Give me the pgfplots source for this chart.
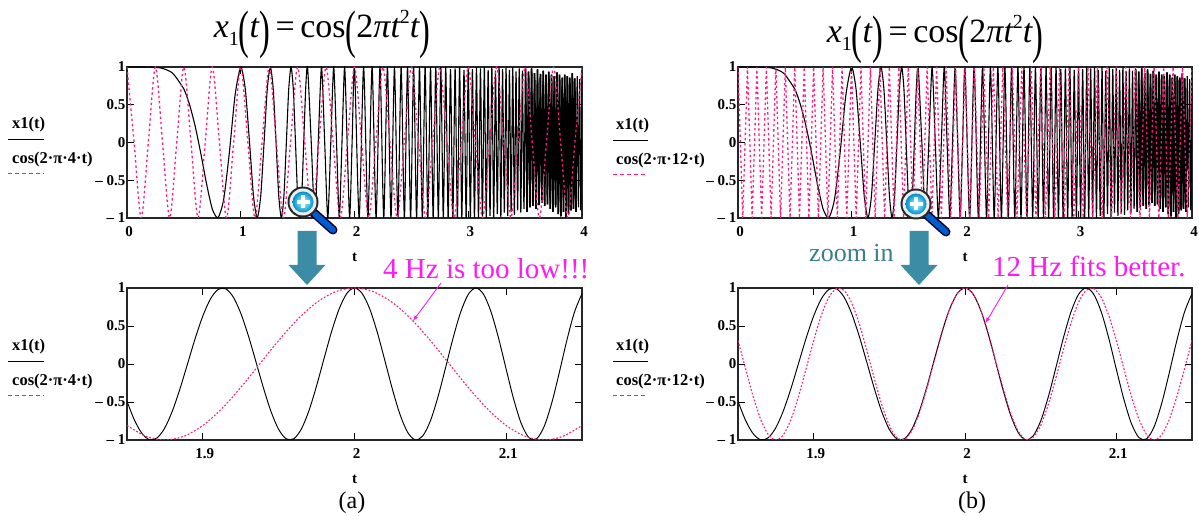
\documentclass[border=0pt]{standalone}
\usepackage{fontspec}
\setmainfont{Liberation Serif}
\usepackage{pgfplots}
\usepackage{pgfplotstable}
\pgfplotsset{compat=1.18}
\definecolor{pk}{HTML}{FF1A80}
\definecolor{teal1}{HTML}{3C8CA6}
\definecolor{teal2}{HTML}{3A7F8F}
\definecolor{mag}{HTML}{FF1AF0}

\pgfplotstableread[row sep=crcr]{
x y\\
0 1\\ 0.1 1\\ 0.2 0.998\\ 0.3 0.986\\ 0.4 0.920\\ 0.5 0.707\\ 0.55 0.501\\ 0.6 0.212\\ 0.65 -0.154\\ 0.7 -0.552\\ 0.75 -0.882\\ 0.8 -0.997\\ 0.85 -0.754\\ 0.9 -0.132\\ 0.95 0.625\\
1.0 1\\ 1.04 0.707\\ 1.0772 0\\ 1.112 -0.707\\ 1.1447 -1\\ 1.1757 -0.707\\ 1.2051 0\\ 1.2331 0.707\\
1.2599 1\\ 1.2856 0.707\\ 1.3104 0\\ 1.3342 -0.707\\ 1.3572 -1\\ 1.3795 -0.707\\ 1.401 0\\ 1.4218 0.707\\
1.4422 1\\ 1.462 0.707\\ 1.4812 0\\ 1.5 -0.707\\ 1.5183 -1\\ 1.5362 -0.707\\ 1.5536 0\\ 1.5708 0.707\\
1.5874 1\\ 1.6198 0\\ 1.651 -1\\ 1.681 0\\ 1.71 1\\ 1.738 0\\ 1.7652 -1\\ 1.7915 0\\ 1.8171 1\\ 1.842 0\\ 1.8663 -1\\ 1.8899 0\\ 1.9129 1\\ 1.9354 0\\ 1.9574 -1\\ 1.9789 0\\ 2.0 1\\
2.0408 -1\\ 2.0801 1\\ 2.1179 -1\\ 2.1544 1\\ 2.1898 -1\\ 2.224 1\\ 2.2572 -1\\ 2.2894 1\\ 2.3208 -1\\ 2.3513 1\\ 2.3811 -1\\ 2.4101 1\\ 2.4385 -1\\ 2.4662 1\\ 2.4933 -1\\ 2.5198 1\\ 2.5458 -1\\ 2.5713 1\\ 2.5962 -1\\ 2.6207 1\\ 2.6448 -1\\ 2.6684 1\\ 2.6916 -1\\ 2.7144 1\\ 2.7369 -1\\ 2.7589 1\\ 2.7806 -1\\ 2.802 1\\ 2.8231 -1\\ 2.8439 0.97\\ 2.8643 -1\\ 2.8845 0.98\\ 2.9044 -1\\ 2.924 1\\ 2.9434 -1\\ 2.9625 0.96\\ 2.9814 -1\\ 3.0 1\\
3.0184 -1\\ 3.0366 0.97\\ 3.0546 -1\\ 3.0723 1\\ 3.0899 -1\\ 3.1072 0.98\\ 3.1244 -0.98\\ 3.1414 1\\ 3.1582 -1\\ 3.1748 0.96\\ 3.1913 -0.97\\ 3.2075 1\\ 3.2237 -1\\ 3.2396 0.95\\ 3.2554 -0.95\\ 3.2711 1\\ 3.2866 -0.99\\ 3.3019 0.97\\ 3.3171 -0.93\\ 3.3322 0.99\\ 3.3472 -0.97\\ 3.362 0.96\\ 3.3767 -0.92\\ 3.3912 1\\ 3.4056 -0.96\\ 3.42 0.94\\ 3.4341 -0.90\\ 3.4482 0.98\\ 3.4622 -0.93\\ 3.476 0.95\\ 3.4898 -0.88\\ 3.5034 0.97\\ 3.5169 -0.92\\ 3.5303 0.94\\ 3.5437 -0.86\\ 3.5569 0.98\\ 3.57 -0.84\\ 3.583 0.92\\ 3.596 -0.88\\ 3.6088 0.97\\ 3.6216 -0.83\\ 3.6342 0.91\\ 3.6468 -0.80\\ 3.6593 0.95\\ 3.6717 -0.84\\ 3.684 0.90\\ 3.6963 -0.82\\ 3.7084 0.94\\ 3.7205 -0.88\\ 3.7325 0.90\\ 3.7444 -0.92\\ 3.7563 0.88\\ 3.7681 -0.86\\ 3.7798 0.93\\ 3.7914 -0.95\\ 3.803 0.90\\ 3.8144 -0.98\\ 3.8259 0.86\\ 3.8372 -0.92\\ 3.8485 0.90\\ 3.8597 -1\\ 3.8709 0.88\\ 3.882 -0.95\\ 3.893 0.86\\ 3.904 -0.90\\ 3.9149 0.92\\ 3.9257 -0.88\\ 3.9365 0.85\\ 3.9472 -0.92\\ 3.9579 0.88\\ 3.9685 -0.86\\ 3.9791 0.84\\ 3.9896 -0.90\\ 4.0 0.86\\
}\chirptop

\pgfplotstableread[row sep=crcr]{
x y\\
1.85 -0.491\\ 1.855 -0.742\\ 1.86 -0.917\\ 1.865 -0.997\\ 1.87 -0.970\\ 1.875 -0.838\\ 1.88 -0.614\\ 1.885 -0.322\\ 1.89 0.008\\ 1.895 0.339\\ 1.9 0.632\\ 1.905 0.855\\ 1.91 0.980\\ 1.915 0.990\\ 1.92 0.883\\ 1.925 0.669\\ 1.93 0.373\\ 1.935 0.031\\ 1.94 -0.317\\ 1.945 -0.628\\ 1.95 -0.861\\ 1.955 -0.985\\ 1.96 -0.983\\ 1.965 -0.854\\ 1.97 -0.612\\ 1.975 -0.287\\ 1.98 0.078\\ 1.985 0.434\\ 1.99 0.731\\ 1.995 0.930\\ 2.0 1\\ 2.005 0.929\\ 2.01 0.727\\ 2.015 0.418\\ 2.02 0.047\\ 2.025 -0.332\\ 2.03 -0.664\\ 2.035 -0.898\\ 2.04 -0.998\\ 2.045 -0.947\\ 2.05 -0.750\\ 2.055 -0.435\\ 2.06 -0.052\\ 2.065 0.342\\ 2.07 0.683\\ 2.075 0.916\\ 2.08 1.000\\ 2.085 0.920\\ 2.09 0.687\\ 2.095 0.339\\ 2.1 -0.069\\ 2.105 -0.467\\ 2.11 -0.786\\ 2.115 -0.970\\ 2.12 -0.985\\ 2.125 -0.824\\ 2.13 -0.516\\ 2.135 -0.115\\ 2.14 0.311\\ 2.145 0.681\\ 2.15 0.926\\
}\chirpbot

\pgfplotstableread[row sep=crcr]{
x y\\
0 1\\ 0.0625 0\\ 0.125 -1\\ 0.1875 0\\ 0.25 1\\ 0.3125 0\\ 0.375 -1\\ 0.4375 0\\ 0.5 1\\ 0.5625 0\\ 0.625 -1\\ 0.6875 0\\ 0.75 1\\ 0.8125 0\\ 0.875 -1\\ 0.9375 0\\
1 1\\ 1.0625 0\\ 1.125 -1\\ 1.1875 0\\ 1.25 1\\ 1.3125 0\\ 1.375 -1\\ 1.4375 0\\ 1.5 1\\ 1.5625 0\\ 1.625 -1\\ 1.6875 0\\ 1.75 1\\ 1.8125 0\\ 1.875 -1\\ 1.9375 0\\
2 1\\ 2.0625 0\\ 2.125 -1\\ 2.1875 0\\ 2.25 1\\ 2.3125 0\\ 2.375 -1\\ 2.4375 0\\ 2.5 1\\ 2.5625 0\\ 2.625 -1\\ 2.6875 0\\ 2.75 1\\ 2.8125 0\\ 2.875 -1\\ 2.9375 0\\
3 1\\ 3.0625 0\\ 3.125 -1\\ 3.1875 0\\ 3.25 1\\ 3.3125 0\\ 3.375 -1\\ 3.4375 0\\ 3.5 1\\ 3.5625 0\\ 3.625 -1\\ 3.6875 0\\ 3.75 1\\ 3.8125 0\\ 3.875 -1\\ 3.9375 0\\ 4 1\\
}\cosfourtop

\pgfplotstableread[row sep=crcr]{
x y\\
0 1\\ 0.04167 -1\\ 0.08333 1\\ 0.125 -1\\ 0.16667 1\\ 0.20833 -1\\ 0.25 1\\ 0.29167 -1\\ 0.33333 1\\ 0.375 -1\\ 0.41667 1\\ 0.45833 -1\\ 0.5 1\\ 0.54167 -1\\ 0.58333 1\\ 0.625 -1\\ 0.66667 1\\ 0.70833 -1\\ 0.75 1\\ 0.79167 -1\\ 0.83333 1\\ 0.875 -1\\ 0.91667 1\\ 0.95833 -1\\
1 1\\ 1.04167 -1\\ 1.08333 1\\ 1.125 -1\\ 1.16667 1\\ 1.20833 -1\\ 1.25 1\\ 1.29167 -1\\ 1.33333 1\\ 1.375 -1\\ 1.41667 1\\ 1.45833 -1\\ 1.5 1\\ 1.54167 -1\\ 1.58333 1\\ 1.625 -1\\ 1.66667 1\\ 1.70833 -1\\ 1.75 1\\ 1.79167 -1\\ 1.83333 1\\ 1.875 -1\\ 1.91667 1\\ 1.95833 -1\\
2 1\\ 2.04167 -1\\ 2.08333 1\\ 2.125 -1\\ 2.16667 1\\ 2.20833 -1\\ 2.25 1\\ 2.29167 -1\\ 2.33333 1\\ 2.375 -1\\ 2.41667 1\\ 2.45833 -1\\ 2.5 1\\ 2.54167 -1\\ 2.58333 1\\ 2.625 -1\\ 2.66667 1\\ 2.70833 -1\\ 2.75 1\\ 2.79167 -1\\ 2.83333 1\\ 2.875 -1\\ 2.91667 1\\ 2.95833 -1\\
3 1\\ 3.04167 -1\\ 3.08333 1\\ 3.125 -1\\ 3.16667 1\\ 3.20833 -1\\ 3.25 1\\ 3.29167 -1\\ 3.33333 1\\ 3.375 -1\\ 3.41667 1\\ 3.45833 -1\\ 3.5 1\\ 3.54167 -1\\ 3.58333 1\\ 3.625 -1\\ 3.66667 1\\ 3.70833 -1\\ 3.75 1\\ 3.79167 -1\\ 3.83333 1\\ 3.875 -1\\ 3.91667 1\\ 3.95833 -1\\ 4 1\\
}\costwelvetop

\pgfplotstableread[row sep=crcr]{
x y\\
1.85 -0.809\\ 1.8625 -0.951\\ 1.875 -1\\ 1.8875 -0.951\\ 1.9 -0.809\\ 1.9125 -0.588\\ 1.925 -0.309\\ 1.9375 0\\ 1.95 0.309\\ 1.9625 0.588\\ 1.975 0.809\\ 1.9875 0.951\\ 2.0 1\\ 2.0125 0.951\\ 2.025 0.809\\ 2.0375 0.588\\ 2.05 0.309\\ 2.0625 0\\ 2.075 -0.309\\ 2.0875 -0.588\\ 2.1 -0.809\\ 2.1125 -0.951\\ 2.125 -1\\ 2.1375 -0.951\\ 2.15 -0.809\\
}\cosfourbot

\pgfplotstableread[row sep=crcr]{
x y\\
1.85 0.309\\ 1.855 -0.063\\ 1.86 -0.426\\ 1.865 -0.729\\ 1.87 -0.930\\ 1.875 -1\\ 1.88 -0.930\\ 1.885 -0.729\\ 1.89 -0.426\\ 1.895 -0.063\\ 1.9 0.309\\ 1.905 0.637\\ 1.91 0.876\\ 1.915 0.992\\ 1.92 0.969\\ 1.925 0.809\\ 1.93 0.536\\ 1.935 0.187\\ 1.94 -0.187\\ 1.945 -0.536\\ 1.95 -0.809\\ 1.955 -0.969\\ 1.96 -0.992\\ 1.965 -0.876\\ 1.97 -0.637\\ 1.975 -0.309\\ 1.98 0.063\\ 1.985 0.426\\ 1.99 0.729\\ 1.995 0.930\\ 2.0 1\\
2.005 0.930\\ 2.01 0.729\\ 2.015 0.426\\ 2.02 0.063\\ 2.025 -0.309\\ 2.03 -0.637\\ 2.035 -0.876\\ 2.04 -0.992\\ 2.045 -0.969\\ 2.05 -0.809\\ 2.055 -0.536\\ 2.06 -0.187\\ 2.065 0.187\\ 2.07 0.536\\ 2.075 0.809\\ 2.08 0.969\\ 2.085 0.992\\ 2.09 0.876\\ 2.095 0.637\\ 2.1 0.309\\ 2.105 -0.063\\ 2.11 -0.426\\ 2.115 -0.729\\ 2.12 -0.930\\ 2.125 -1\\ 2.13 -0.930\\ 2.135 -0.729\\ 2.14 -0.426\\ 2.145 -0.063\\ 2.15 0.309\\
}\costwelvebot

\pgfplotsset{
  panel/.style={
    scale only axis, width=455pt,
    ymin=-1, ymax=1,
    axis line style={line width=1.2pt,black!85},
    tick align=inside, major tick length=7pt,
    tick style={black,line width=0.8pt},
    ytick={-1,-0.5,0,0.5,1},
    yticklabels={\textendash\ 1,\textendash\ 0.5,0,0.5,1},
    tick label style={font=\bfseries\fontsize{15}{15}\selectfont},
    yticklabel style={xshift=2pt},
    xlabel={t},
    xlabel style={font=\bfseries\fontsize{15}{15}\selectfont},
    clip=true,
  },
  toppanel/.style={panel,height=151pt,xmin=0,xmax=4,xtick={0,1,2,3,4},
    xticklabels={0,1,2,3,4},
    xticklabel style={yshift=-5pt,xshift=2pt},
    xlabel style={yshift=-10pt}},
  botpanel/.style={panel,height=152pt,xmin=1.85,xmax=2.15,xtick={1.9,2,2.1},
    xticklabels={1.9,2,2.1},
    xticklabel style={yshift=-5pt,xshift=2pt},
    xlabel style={yshift=-10pt}},
  blk/.style={black,line width=1.1pt},
  blkh/.style={black,line width=1.7pt,restrict x to domain=3.5:3.95},
  blkb/.style={black,line width=0.95pt},
  pkt/.style={pk,line width=1.3pt,dash pattern=on 2.4pt off 2.8pt},
  pkb/.style={pk,line width=1.1pt,dash pattern=on 1.8pt off 1.8pt},
}
\newcommand{\bigp}[1]{\raisebox{-0.28em}{\scalebox{0.95}[1.55]{#1}}}
\newcommand{\titl}{\fontsize{34}{34}\selectfont{\itshape x}\raisebox{-0.22em}{\fontsize{20}{20}\selectfont 1}\bigp{(}{\itshape t}\bigp{)}\,=\,cos\bigp{(}2{\itshape πt}\raisebox{0.42em}{\fontsize{20}{20}\selectfont 2}{\itshape t}\bigp{)}}
\newcommand{\magglass}[2]{%
  \begin{scope}[shift={(#1,#2)}]
    \draw[line cap=round,line width=9pt,black!80!blue] (11,11) -- (30,28);
    \draw[line cap=round,line width=6pt,blue!55!cyan!80!black] (12,12) -- (30,28);
    \fill[black!85] (0,0) circle (15.5);
    \fill[white!85!gray] (0,0) circle (13.5);
    \shade[inner color=cyan!30!white,outer color=cyan!70!blue!80!black] (0,0) circle (10.5);
    \fill[white] (-1.8,-6.5) rectangle (1.8,6.5);
    \fill[white] (-6.5,-1.8) rectangle (6.5,1.8);
  \end{scope}}
\newcommand{\blockarrow}[1]{%
  \fill[teal1] (#1-9.5,231) -- (#1+9.5,231) -- (#1+9.5,265) -- (#1+18.5,265) -- (#1,285) -- (#1-18.5,265) -- (#1-9.5,265) -- cycle;}
\newcommand{\leg}[5]{%
  \begin{scope}[shift={(0,#3)}]
    \node[anchor=west,inner sep=0,font=\bfseries\fontsize{16.5}{16.5}\selectfont] at (#1,125) {x1(t)};
    \draw[black,line width=1pt] (#2,139.5) -- (#5,139.5);
    \node[anchor=west,inner sep=0,font=\bfseries\fontsize{16.5}{16.5}\selectfont] at (#1,159.5) {#4};
    \draw[pk,line width=1.2pt,dash pattern=on 3.5pt off 3.5pt] (#2,173.5) -- (#5,173.5);
  \end{scope}}

\begin{document}
\begin{tikzpicture}
\path[use as bounding box] (0,0) rectangle (1199pt,516pt);

\begin{axis}[toppanel,at={(127pt,298pt)},anchor=south west]
  \addplot[blk,smooth,tension=0.4] table {\chirptop};
  \addplot[blkh] table {\chirptop};
  \addplot[pkt,smooth] table {\cosfourtop};
\end{axis}
\begin{axis}[botpanel,at={(127pt,76pt)},anchor=south west]
  \addplot[blkb,smooth] table {\chirpbot};
  \addplot[pkb,smooth] table {\cosfourbot};
\end{axis}
\begin{axis}[toppanel,at={(738pt,298pt)},anchor=south west,width=454pt]
  \addplot[blk,smooth,tension=0.4] table {\chirptop};
  \addplot[blkh] table {\chirptop};
  \addplot[pkt] table {\costwelvetop};
\end{axis}
\begin{axis}[botpanel,at={(738pt,76pt)},anchor=south west,width=454pt]
  \addplot[blkb,smooth] table {\chirpbot};
  \addplot[pkb,smooth] table {\costwelvebot};
\end{axis}

\begin{scope}[x=1pt,y=-1pt,shift={(0pt,516pt)}]
  \node[anchor=base,inner sep=0] at (322,38) {\titl};
  \node[anchor=base,inner sep=0] at (935,43) {\titl};

  \leg{12}{8}{0}{cos(2·π·4·t)}{44}
  \leg{12}{8}{222}{cos(2·π·4·t)}{44}
  \leg{616}{613}{1}{cos(2·π·12·t)}{648}
  \leg{616}{613}{222}{cos(2·π·12·t)}{648}

  \blockarrow{307}
  \blockarrow{919}
  \magglass{303}{202}
  \magglass{916}{204}

  \node[anchor=base west,inner sep=0,text=teal2,font=\fontsize{26}{26}\selectfont] at (809,262) {zoom in};
  \node[anchor=base west,inner sep=0,text=mag,font=\fontsize{29}{29}\selectfont] at (383,279) {4 Hz is too low!!!};
  \node[anchor=base west,inner sep=0,text=mag,font=\fontsize{29}{29}\selectfont] at (992,277) {12 Hz fits better.};
  \draw[mag,line width=0.9pt,-{latex}] (441,283) -- (413,321);
  \draw[mag,line width=0.9pt,-{latex}] (1008,285) -- (985.5,323);

  \node[inner sep=0,font=\fontsize{24}{24}\selectfont] at (352,503) {(a)};
  \node[inner sep=0,font=\fontsize{24}{24}\selectfont] at (972,503) {(b)};
\end{scope}
\end{tikzpicture}
\end{document}
